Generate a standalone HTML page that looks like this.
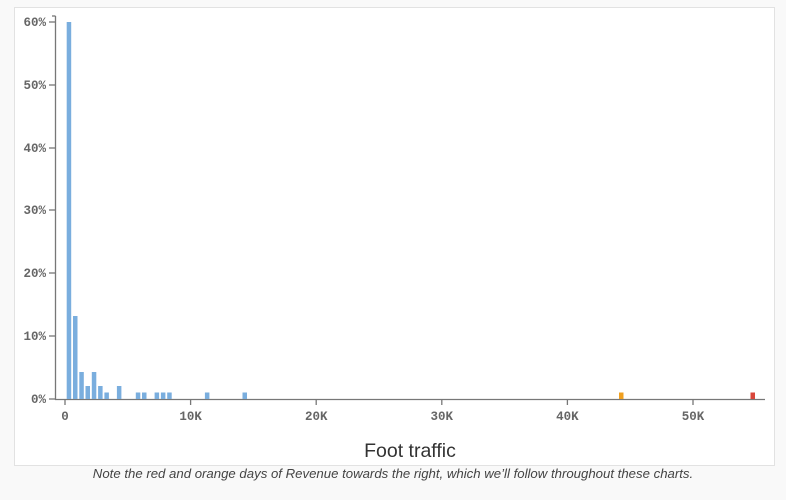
<!DOCTYPE html>
<html><head><style>
html,body{margin:0;padding:0;width:786px;height:500px;overflow:hidden;background:#f9f9f9;}
.card{position:absolute;left:14px;top:7px;width:759px;height:457px;background:#fff;border:1px solid #e2e2e2;}
.cap{position:absolute;left:0;top:465px;width:786px;text-align:center;font:italic 13.2px "Liberation Sans",sans-serif;color:#444;line-height:18px;}
</style></head><body>
<div class="card"></div>
<svg style="position:absolute;left:0;top:0" width="786" height="500">
<g font-family="Liberation Mono, DejaVu Sans Mono, monospace" font-size="12.5" font-weight="bold" fill="#666" text-anchor="end">
<text x="46" y="26">60%</text><text x="46" y="89">50%</text><text x="46" y="152">40%</text>
<text x="46" y="214">30%</text><text x="46" y="277">20%</text><text x="46" y="340">10%</text><text x="46" y="403">0%</text>
</g>
<g stroke="#777" stroke-width="1.3">
<line x1="55.5" y1="16" x2="55.5" y2="400"/>
<line x1="52" y1="16" x2="55.5" y2="16"/>
<line x1="49" y1="22" x2="55" y2="22"/><line x1="49" y1="85" x2="55" y2="85"/><line x1="49" y1="148" x2="55" y2="148"/>
<line x1="49" y1="210" x2="55" y2="210"/><line x1="49" y1="273" x2="55" y2="273"/><line x1="49" y1="336" x2="55" y2="336"/><line x1="49" y1="399" x2="55" y2="399"/>
<line x1="55" y1="399.5" x2="765" y2="399.5"/>
<line x1="65" y1="399" x2="65" y2="405"/><line x1="190.6" y1="399" x2="190.6" y2="405"/><line x1="316.2" y1="399" x2="316.2" y2="405"/>
<line x1="441.8" y1="399" x2="441.8" y2="405"/><line x1="567.4" y1="399" x2="567.4" y2="405"/><line x1="693" y1="399" x2="693" y2="405"/>
</g>
<g font-family="Liberation Mono, DejaVu Sans Mono, monospace" font-size="12.5" font-weight="bold" fill="#666" text-anchor="middle">
<text x="65" y="420">0</text><text x="190.6" y="420">10K</text><text x="316.2" y="420">20K</text>
<text x="441.8" y="420">30K</text><text x="567.4" y="420">40K</text><text x="693" y="420">50K</text>
</g>
<g fill="#7aaede">
<rect x="66.7" y="22" width="4.5" height="377"/>
<rect x="73" y="316" width="4.5" height="83"/>
<rect x="79.3" y="372" width="4.5" height="27"/>
<rect x="85.5" y="386" width="4.5" height="13"/>
<rect x="91.8" y="372" width="4.5" height="27"/>
<rect x="98.1" y="386" width="4.5" height="13"/>
<rect x="104.4" y="392.5" width="4.5" height="6.5"/>
<rect x="116.9" y="386" width="4.5" height="13"/>
<rect x="135.8" y="392.5" width="4.5" height="6.5"/>
<rect x="142" y="392.5" width="4.5" height="6.5"/>
<rect x="154.6" y="392.5" width="4.5" height="6.5"/>
<rect x="160.9" y="392.5" width="4.5" height="6.5"/>
<rect x="167.2" y="392.5" width="4.5" height="6.5"/>
<rect x="204.9" y="392.5" width="4.5" height="6.5"/>
<rect x="242.5" y="392.5" width="4.5" height="6.5"/>
</g>
<rect x="619" y="392.5" width="4.5" height="6.5" fill="#f0a020"/>
<rect x="750.5" y="392.5" width="4.5" height="6.5" fill="#d9473b"/>
<text x="410" y="457" font-family="Liberation Sans, sans-serif" font-size="19.5" fill="#333" text-anchor="middle">Foot traffic</text>
</svg>
<div class="cap">Note the red and orange days of Revenue towards the right, which we’ll follow throughout these charts.</div>
</body></html>
